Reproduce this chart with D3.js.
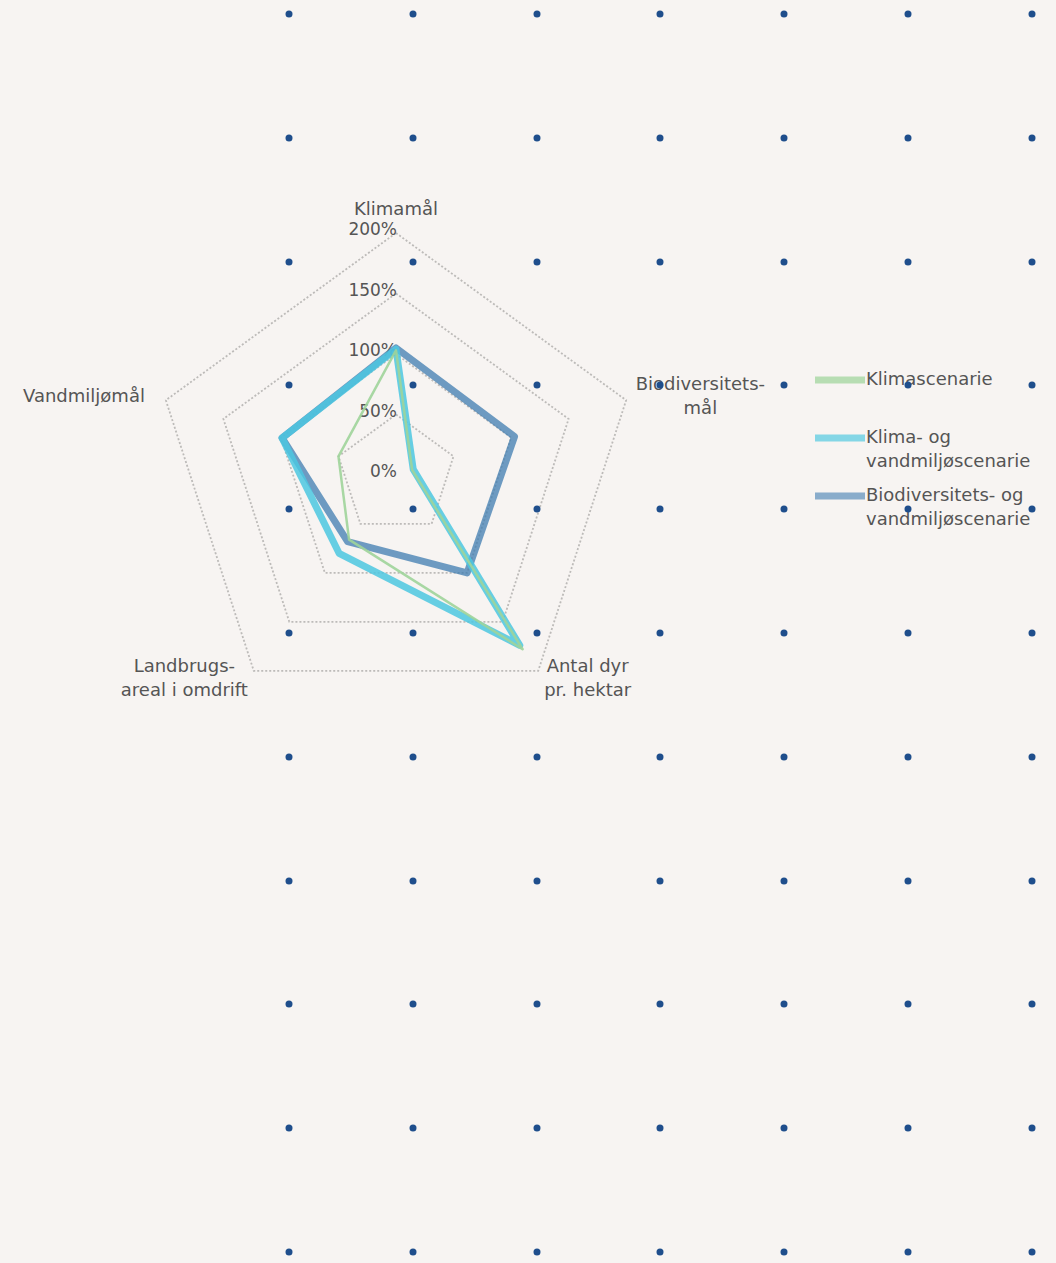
<!DOCTYPE html>
<html>
<head>
<meta charset="utf-8">
<script src="https://cdn.jsdelivr.net/npm/d3@7"></script>
<style>
  html, body { margin: 0; padding: 0; background: #f7f4f2; }
  svg text { font-family: "DejaVu Sans", sans-serif; fill: #555; }
</style>
</head>
<body>
<div id="chart"></div>
<script>
// axis labels, clockwise from the top
const axisLabels = [
  ["Klimamål"],
  ["Biodiversitets-", "mål"],
  ["Antal dyr", "pr. hektar"],
  ["Landbrugs-", "areal i omdrift"],
  ["Vandmiljømål"]
];
const tickValues = [0, 50, 100, 150, 200];

const seriesNames = [
  ["Klimascenarie"],
  ["Klima- og", "vandmiljøscenarie"],
  ["Biodiversitets- og", "vandmiljøscenarie"]
];
const klimaValues = [103, 14, 178, 66, 50];
const klimaVandValues = [104, 15, 174, 80, 99];
const bioVandValues = [105, 103, 100, 68, 99];

// decorative dot grid
const dotX = [289, 413, 537, 660, 784, 908, 1032];
const dotY = [14, 138, 262, 385, 509, 633, 757, 881, 1004, 1128, 1252];

const width = 1056, height = 1263;
const cx = 396, cy = 475, R = 242;

const svg = d3.select("#chart").append("svg")
  .attr("width", width)
  .attr("height", height);

svg.append("rect")
  .attr("width", width).attr("height", height)
  .attr("fill", "#f7f4f2");

const r = d3.scaleLinear().domain([0, 200]).range([0, R]);
const angle = i => -Math.PI / 2 + i * 2 * Math.PI / axisLabels.length;

const g = svg.append("g").attr("transform", `translate(${cx},${cy})`);

// grid rings (dotted pentagons)
const ringLine = d3.lineRadial()
  .angle((d, i) => angle(i) + Math.PI / 2)
  .radius(d => r(d))
  .curve(d3.curveLinearClosed);

g.selectAll(".ring")
  .data(tickValues.slice(1))
  .enter().append("path")
  .attr("class", "ring")
  .attr("d", v => ringLine(axisLabels.map(() => v)))
  .attr("fill", "none")
  .attr("stroke", "#bdbbb9")
  .attr("stroke-width", 1.8)
  .attr("stroke-dasharray", "2,2");

// tick labels on the vertical axis
g.selectAll(".tick-label")
  .data(tickValues)
  .enter().append("text")
  .attr("class", "tick-label")
  .attr("x", 1)
  .attr("y", v => -r(v) - 3)
  .attr("text-anchor", "end")
  .attr("dominant-baseline", "middle")
  .style("font-size", "17px")
  .text(v => v + "%");

// series
const series = [
  { values: bioVandValues, color: "#3f7cb0", width: 7, opacity: 0.75 },
  { values: klimaVandValues, color: "#4cc7e0", width: 7, opacity: 0.85 },
  { values: klimaValues, color: "#9ed49a", width: 2.5, opacity: 0.9 }
];
const legendSeries = [series[2], series[1], series[0]];

g.selectAll(".series")
  .data(series)
  .enter().append("path")
  .attr("class", "series")
  .attr("d", s => ringLine(s.values))
  .attr("fill", "none")
  .attr("stroke", s => s.color)
  .attr("stroke-width", s => s.width)
  .attr("stroke-opacity", s => s.opacity)
  .attr("stroke-linejoin", "round");

// axis labels
const lineH = 24;
axisLabels.forEach((lines, i) => {
  const a = angle(i);
  const dx = Math.cos(a), dy = Math.sin(a);
  const pad = dx < -0.9 ? 22 : 10;
  const px = (R + pad) * dx, py = (R + 10) * dy;
  const t = g.append("text")
    .style("font-size", "18px")
    .attr("text-anchor", "middle");
  lines.forEach((l, k) => {
    t.append("tspan")
      .attr("x", 0)
      .attr("y", k * lineH)
      .attr("dominant-baseline", "middle")
      .text(l);
  });
  const w = d3.max(t.selectAll("tspan").nodes(), n => n.getComputedTextLength());
  const blockH = (lines.length - 1) * lineH;
  let ox = px, oy = py - blockH / 2;
  if (dx > 0.1) ox = px + w / 2;
  else if (dx < -0.1) ox = px - w / 2;
  if (dy < -0.9) oy = py - 13 - blockH;
  t.attr("transform", `translate(${ox},${oy})`);
});

// legend
const legend = svg.append("g").attr("transform", "translate(815,380)");
const legendY = [0, 58, 116];
legendSeries.forEach((s, i) => {
  const lg = legend.append("g").attr("transform", `translate(0,${legendY[i]})`);
  lg.append("line")
    .attr("x1", 0).attr("x2", 50)
    .attr("y1", 0).attr("y2", 0)
    .attr("stroke", s.color)
    .attr("stroke-opacity", s.opacity * 0.8)
    .attr("stroke-width", 7);
  seriesNames[i].forEach((l, k) => {
    lg.append("text")
      .attr("x", 51)
      .attr("y", k * lineH)
      .attr("dominant-baseline", "middle")
      .style("font-size", "18px")
      .text(l);
  });
});

// dot grid on top
const dots = [];
dotY.forEach(y => dotX.forEach(x => dots.push([x, y])));
svg.append("g").selectAll("circle")
  .data(dots)
  .enter().append("circle")
  .attr("cx", d => d[0])
  .attr("cy", d => d[1])
  .attr("r", 3.5)
  .attr("fill", "#1f4e8c");
</script>
</body>
</html>
